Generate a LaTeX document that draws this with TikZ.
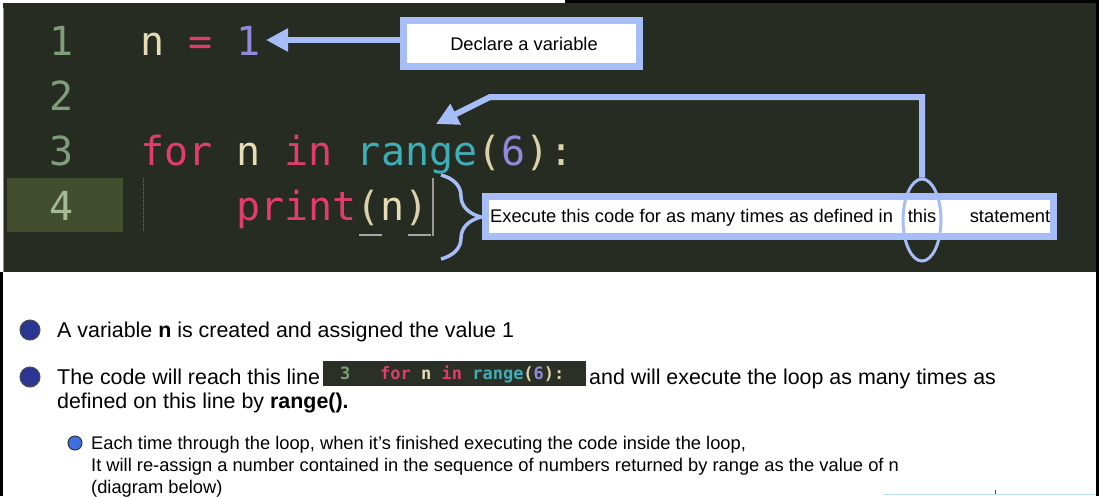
\documentclass[tikz,border=0pt]{standalone}
\usepackage{fontspec}
\setmainfont{Liberation Sans}
\newfontfamily\codefont{DejaVu Sans Mono}
\usetikzlibrary{arrows.meta,decorations.pathreplacing,shapes.geometric}
\definecolor{panel}{HTML}{272C22}
\definecolor{hlline}{HTML}{434E2F}
\definecolor{calblue}{HTML}{A6BDF7}
\definecolor{cln}{HTML}{7E9E78}
\definecolor{clnf}{HTML}{A3BA93}
\definecolor{cvar}{HTML}{E6DDB4}
\definecolor{ckey}{HTML}{E23C6C}
\definecolor{cnum}{HTML}{9189DA}
\definecolor{crange}{HTML}{40AEB6}
\definecolor{cparen}{HTML}{D9D2AA}
\definecolor{bulletdark}{HTML}{2B3693}
\definecolor{bulletlight}{HTML}{3F6FE0}
\definecolor{inlinebg}{HTML}{2A3025}
\definecolor{bottomline}{HTML}{B8E0F0}
\begin{document}
\begin{tikzpicture}[x=1pt,y=-1pt,
  callout/.style={draw=calblue, line width=7pt, fill=white, inner sep=0pt},
  calarrow/.style={draw=calblue, line width=6pt, -{Triangle[length=22pt,width=22pt]}},
  codetext/.style={font=\codefont\fontsize{40}{40}\selectfont, inner sep=0pt, anchor=base west},
  lnum/.style={font=\codefont\fontsize{40}{40}\selectfont, inner sep=0pt, anchor=base, text=cln},
  calltext/.style={font=\fontsize{18.3}{20}\selectfont, inner sep=0pt, text=black},
  bodytext/.style={font=\fontsize{21.4}{24}\selectfont, inner sep=0pt, anchor=base west, text=black},
  smalltext/.style={font=\fontsize{18.3}{20}\selectfont, inner sep=0pt, anchor=base west, text=black},
  bigbullet/.style={circle, fill=bulletdark, draw=black!70, line width=1pt, minimum size=20pt, inner sep=0pt},
  smallbullet/.style={circle, fill=bulletlight, draw=black!80, line width=1pt, minimum size=14pt, inner sep=0pt},
  icode/.style={font=\codefont\bfseries\fontsize{17}{17}\selectfont, inner sep=0pt, anchor=base west}
]
\useasboundingbox (0,0) rectangle (1099,496);
\fill[white] (0,0) rectangle (1099,496);
% dark code panel
\fill[panel] (3,3) rectangle (1096,272);
\fill[black] (565,0) rectangle (1099,3);
\draw[black!45, line width=1.5pt] (3.5,8) -- (3.5,272);
\draw[black, line width=3pt] (1.5,272) -- (1.5,496);
\fill[black] (1095.5,0) rectangle (1099,496);
% current line highlight
\fill[hlline] (7,178) rectangle (123,232);
\draw[black!55, line width=1pt, densely dotted] (143,178) -- (143,232);
% line numbers
\node[lnum] (n1) at (62,55) {1};
\node[lnum] (n2) at (62,110) {2};
\node[lnum] (n3) at (62,165) {3};
\node[lnum, text=clnf] (n4) at (62,220) {4};
% code
\node[codetext] (code1) at (140,55) {\textcolor{cvar}{n} \textcolor{ckey}{=} \textcolor{cnum}{1}};
\node[codetext] (code3) at (140,165) {\textcolor{ckey}{for} \textcolor{cvar}{n} \textcolor{ckey}{in} \textcolor{crange}{range}\textcolor{cparen}{(}\textcolor{cnum}{6}\textcolor{cparen}{):}};
\node[codetext] (code4) at (236,220) {\textcolor{ckey}{print}\textcolor{cparen}{(}\textcolor{cvar}{n}\textcolor{cparen}{)}};
% bracket match underlines and cursor
\draw[black!35, line width=2pt] (359,235) -- (382,235);
\draw[black!35, line width=2pt] (408,235) -- (431,235);
\draw[black!40, line width=1.5pt] (433,178) -- (433,236);
% callout: declare
\node[callout, minimum width=236pt, minimum height=46pt] (declare) at (521.5,43.5) {};
\node[calltext] (declaretext) at (524,44) {Declare a variable};
\coordinate (tipone) at (266,40);
\draw[calarrow] (declare.west |- 0,40) -- (tipone);
% callout: execute
\node[callout, minimum width=568pt, minimum height=40pt] (execbox) at (769.5,216.5) {};
\node[calltext, anchor=base west] (exectext) at (490,222.5) {Execute this code for as many times as defined in};
\node[calltext, anchor=base] (thistext) at (922,222.5) {this};
\node[calltext, anchor=base] (stmttext) at (1010,222.5) {statement};
\node[ellipse, draw=calblue, line width=3pt, minimum width=38pt, minimum height=82pt, inner sep=0pt] (thisell) at (922,220) {};
\coordinate (bend) at (490,97);
\coordinate (tiprange) at (436,124);
\draw[calarrow] (thisell.north) -- (thisell.north |- bend) -- (bend) -- (tiprange);
% brace
\draw[calblue, line width=3.5pt, decorate, decoration={brace, amplitude=40pt, aspect=0.5}] (441,175) -- (441,259);
% lower section
\node[bigbullet] (b1) at (30,330) {};
\node[bodytext] (t1) at (57,337.5) {A variable \textbf{n} is created and assigned the value 1};
\node[bigbullet] (b2) at (30,377) {};
\node[bodytext] (t2a) at (57,384.5) {The code will reach this line};
\node[fill=inlinebg, minimum width=263pt, minimum height=25pt, inner sep=0pt] (icodebox) at (454.5,373.5) {};
\node[icode, text=cln] (icnum) at (340,379) {3};
\node[icode] (icline) at (380,379) {\textcolor{ckey}{for} \textcolor{cvar}{n} \textcolor{ckey}{in} \textcolor{crange}{range}\textcolor{cparen}{(}\textcolor{cnum}{6}\textcolor{cparen}{):}};
\node[bodytext] (t2b) at (589,384.5) {and will execute the loop as many times as};
\node[bodytext] (t2c) at (57,408.5) {defined on this line by \textbf{range().}};
\node[smallbullet] (b3) at (75,443) {};
\node[smalltext] (t3a) at (91,449) {Each time through the loop, when it's finished executing the code inside the loop,};
\node[smalltext] (t3b) at (91,471) {It will re-assign a number contained in the sequence of numbers returned by range as the value of n};
\node[smalltext] (t3c) at (91,493) {(diagram below)};
% cut-off element at bottom right
\draw[bottomline, line width=1.5pt] (883,494.5) -- (1095,494.5);
\draw[black!70, line width=1pt] (995,490) -- (995,494);
\end{tikzpicture}
\end{document}
